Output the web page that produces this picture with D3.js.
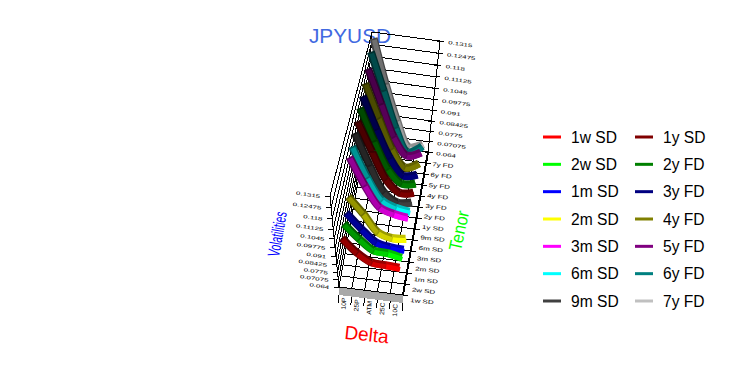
<!DOCTYPE html>
<html>
<head>
<meta charset="utf-8">
<script src="https://cdnjs.cloudflare.com/ajax/libs/d3/7.8.5/d3.min.js"></script>
<style>
    body { margin: 0; background: #fff; }
    svg { display: block; }
    text { font-family: "Liberation Sans", Arial, sans-serif; }
</style>
</head>
<body>
<div id="chart"></div>
<script>
const tenors = ['1w SD', '2w SD', '1m SD', '2m SD', '3m SD', '6m SD', '9m SD', '1y SD', '2y FD', '3y FD', '4y FD', '5y FD', '6y FD', '7y FD']
const deltas = ['10P', '25P', 'ATM', '25C', '10C']
const volTicks = [0.064, 0.07075, 0.0775, 0.08425, 0.091, 0.09775, 0.1045, 0.11125, 0.118, 0.12475, 0.1315]
const colors = ['#ff0000', '#00ff00', '#0000ff', '#ffff00', '#ff00ff', '#00ffff', '#404040', '#800000', '#008000', '#000080', '#808000', '#800080', '#008080', '#c0c0c0']

// one row per tenor, one value per delta
const vols = [
    [0.1058, 0.0962, 0.0899, 0.0891, 0.0883],
    [0.1071, 0.0978, 0.0901, 0.0893, 0.0869],
    [0.1063, 0.0963, 0.0872, 0.0847, 0.0840],
    [0.1088, 0.0985, 0.0858, 0.0826, 0.0834],
    [0.1254, 0.1094, 0.0957, 0.0921, 0.0906],
    [0.1243, 0.1065, 0.0921, 0.0878, 0.0863],
    [0.1248, 0.1065, 0.0894, 0.0829, 0.0843],
    [0.1243, 0.1074, 0.0901, 0.0816, 0.0830],
    [0.1248, 0.1063, 0.0890, 0.0799, 0.0812],
    [0.1243, 0.1059, 0.0884, 0.0772, 0.0793],
    [0.1244, 0.1052, 0.0865, 0.0749, 0.0791],
    [0.1254, 0.1062, 0.0866, 0.0752, 0.0786],
    [0.1277, 0.1068, 0.0849, 0.0695, 0.0750],
    [0.1282, 0.1035, 0.0818, 0.0654, 0.0687]
]

const width = 731
const height = 386

const svg = d3.select('#chart')
    .append('svg')
    .attr('width', width)
    .attr('height', height)
    .attr('viewBox', [0, 0, width, height])

const deltaCell = d3.scaleLinear().domain([0, 5]).range([0, 1])
const tenorPos = d3.scaleLinear().domain([0, 13]).range([0, 1])
const volPos = d3.scaleLinear().domain([0.064, 0.1315]).range([0, 1])

// ribbons sit inside the box, the inset shrinks towards the back on the left
function deltaPos(j, w) {
    return d3.scaleLinear().domain([0, 4]).range([0.12 - 0.09 * w, 0.98 - 0.07 * w])(j)
}

// corners of the box on screen: floor and top, [front left, front right, back right, back left]
const floorBox = [[339, 287], [403, 295], [428, 152], [365, 143]]
const topBox = [[330, 196], [395, 204], [440, 41], [372, 32]]

function bilinear(box, u, w) {
    const a = d3.interpolateNumber
    return [0, 1].map(k => a(a(box[0][k], box[1][k])(u), a(box[3][k], box[2][k])(u))(w))
}

function project(u, w, h) {
    const a = 0.33 - 0.22 * w
    const hh = h / (1 + a * (1 - h))
    const b = bilinear(floorBox, u, w)
    const t = bilinear(topBox, u, w)
    return [b[0] + (t[0] - b[0]) * hh, b[1] + (t[1] - b[1]) * hh]
}

const line = d3.line()
const smooth = d3.line().curve(d3.curveCatmullRom)

function drawLine(g, pts, w, col) {
    return g.append('path')
        .attr('d', line(pts))
        .attr('fill', 'none')
        .attr('stroke', col || '#000')
        .attr('stroke-width', w || 1)
}

// title goes under the box
svg.append('text')
    .attr('x', 350)
    .attr('y', 43)
    .attr('text-anchor', 'middle')
    .attr('font-size', 20.8)
    .attr('fill', '#4169e1')
    .text('JPYUSD')

const box = svg.append('g').attr('shape-rendering', 'crispEdges')

// front band under the floor
const bandDrop = 8
box.append('path')
    .attr('d', line([project(0, 0, 0), project(1, 0, 0),
        [project(1, 0, 0)[0], project(1, 0, 0)[1] + bandDrop],
        [project(0, 0, 0)[0], project(0, 0, 0)[1] + bandDrop]]) + 'Z')
    .attr('fill', '#a9a9a9')

// floor grid
tenors.forEach((d, i) => {
    drawLine(box, [project(0, tenorPos(i), 0), project(1, tenorPos(i), 0)])
})
d3.range(6).forEach(i => {
    const u = deltaCell(i)
    drawLine(box, [project(u, 0, 0), project(u, 1, 0)])
    const p = project(u, 0, 0)
    drawLine(box, [[p[0], p[1] + bandDrop], [p[0] - 1, p[1] + bandDrop + 8]])
})

// walls
volTicks.forEach(v => {
    const h = volPos(v)
    drawLine(box, [project(0, 0, h), project(0, 1, h)])
    drawLine(box, [project(0, 1, h), project(1, 1, h)])
    const left = project(0, 0, h)
    drawLine(box, [left, [left[0] - 5, left[1]]])
    const right = project(1, 1, h)
    drawLine(box, [[right[0] - 3, right[1]], [right[0] + 4, right[1]]])
})
drawLine(box, [project(0, 0, 0), project(0, 0, 1)])
drawLine(box, [project(0, 1, 0), project(0, 1, 1)])
drawLine(box, [project(1, 1, 0), project(1, 1, 1)])
drawLine(box, [project(1, 0, 0), project(1, 1, 0)], 2)

// tenor ticks along the right floor edge
tenors.forEach((d, i) => {
    const p = project(1, tenorPos(i), 0)
    drawLine(box, [p, [p[0] + 5, p[1] + 1]])
})

// length of the smoothed ribbon up to each delta, used to colour it piece by piece
function lengthsAlong(pts) {
    const probe = svg.append('path').attr('fill', 'none')
    const out = pts.map((p, k) => {
        if (k === 0) return 0
        probe.attr('d', smooth(pts.slice(0, k + 1)))
        return probe.node().getTotalLength()
    })
    probe.remove()
    return out
}

function drawPiece(g, pts, from, to, w, col) {
    g.append('path')
        .attr('d', smooth(pts))
        .attr('fill', 'none')
        .attr('stroke', col)
        .attr('stroke-width', w)
        .attr('stroke-dasharray', `0 ${from} ${to - from} 9999`)
}

// ribbons, back to front
const shade = [0.42, 0.32, 0.18, 0.02]
d3.range(tenors.length - 1, -1, -1).forEach(i => {
    const w = tenorPos(i)
    const g = svg.append('g')
    const pts = vols[i].map((v, j) => project(deltaPos(j, w), w, volPos(v)))
    const lower = pts.map(p => [p[0] + 0.7, p[1] + 1.6])
    const lens = lengthsAlong(pts)
    d3.range(4).forEach(s => {
        const dark = d3.interpolateRgb(colors[i], '#000')(shade[s] + 0.22)
        const face = d3.interpolateRgb(colors[i], '#000')(shade[s])
        drawPiece(g, pts, lens[s], lens[s + 1] + 0.5, 8, dark)
        drawPiece(g, lower, lens[s], lens[s + 1] + 0.5, 5, face)
    })
})

// tick labels are squashed to follow the box
const tickLabels = svg.append('g').attr('fill', '#000').attr('font-size', 8)

volTicks.forEach(v => {
    const h = volPos(v)
    const l = project(0, 0, h)
    const r = project(1, 1, h)
    tickLabels.append('text')
        .attr('text-anchor', 'end')
        .attr('transform', `translate(${l[0] - 10},${l[1] + 2}) rotate(8) scale(1,0.6)`)
        .text(String(v))
    tickLabels.append('text')
        .attr('transform', `translate(${r[0] + 8},${r[1] + 3}) rotate(8) scale(1,0.6)`)
        .text(String(v))
})

tenors.forEach((d, i) => {
    const p = project(1, tenorPos(i), 0)
    const w = tenorPos(i)
    tickLabels.append('text')
        .attr('transform', `translate(${p[0] + 7 - 3 * w},${p[1] + 7 + 7 * w}) rotate(6) scale(1,0.7)`)
        .text(d)
})

deltas.forEach((d, i) => {
    const p = project(deltaCell(i + 0.5), 0, 0)
    tickLabels.append('text')
        .attr('text-anchor', 'end')
        .attr('transform', `translate(${p[0] + 1},${p[1] + bandDrop + 2}) rotate(-86) scale(0.85,0.8)`)
        .text(d)
})

// axis names
svg.append('text')
    .attr('transform', 'translate(366,341) rotate(6)')
    .attr('text-anchor', 'middle')
    .attr('font-size', 19)
    .attr('fill', '#ff0000')
    .text('Delta')

svg.append('text')
    .attr('transform', 'translate(465,232) rotate(-78) scale(0.9,1)')
    .attr('text-anchor', 'middle')
    .attr('font-size', 18)
    .attr('fill', '#00ff00')
    .text('Tenor')

svg.append('text')
    .attr('transform', 'translate(283,235) rotate(-80) scale(0.6,1)')
    .attr('text-anchor', 'middle')
    .attr('font-size', 17)
    .attr('fill', '#0000ff')
    .text('Volatilities')

// legend, two columns of seven
const legendRow = d3.scalePoint().domain(d3.range(7)).range([137, 301])
const legendCol = [543, 635]

const legend = svg.append('g')
    .selectAll('g')
    .data(tenors)
    .join('g')
    .attr('transform', (d, i) => `translate(${legendCol[Math.floor(i / 7)]},${legendRow(i % 7)})`)

legend.append('line')
    .attr('x1', 0)
    .attr('x2', 18)
    .attr('stroke', (d, i) => colors[i])
    .attr('stroke-width', 3)

legend.append('text')
    .attr('x', 28)
    .attr('y', 5.5)
    .attr('font-size', 15.6)
    .attr('fill', '#000')
    .text(d => d)
</script>
</body>
</html>
